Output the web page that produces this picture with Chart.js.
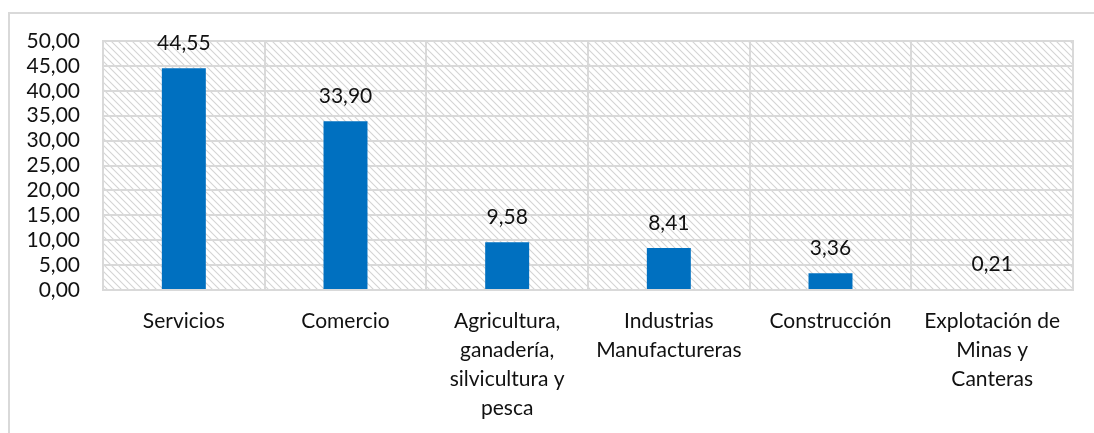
<!DOCTYPE html>
<html>
<head>
<meta charset="utf-8">
<script src="https://cdn.jsdelivr.net/npm/chart.js@4"></script>
<style>
  html, body { margin: 0; padding: 0; background: #fff; overflow: hidden; }
  #frame { position: absolute; left: 8px; top: 12px; width: 1200px; height: 600px;
           border-top: 2px solid #d9d9d9; border-left: 2px solid #d9d9d9; box-sizing: border-box; }
  #wrap { position: absolute; left: 0; top: 0; width: 1094px; height: 433px; }
</style>
</head>
<body>
<div id="frame"></div>
<div id="wrap"><canvas id="c"></canvas></div>
<script>
const categories = [
  "Servicios",
  "Comercio",
  ["Agricultura,", "ganadería,", "silvicultura y", "pesca"],
  ["Industrias", "Manufactureras"],
  "Construcción",
  ["Explotación de", "Minas y", "Canteras"]
];
const values = [44.55, 33.90, 9.58, 8.41, 3.36, 0.21];
const yTicksMin = 0, yTicksMax = 50, yTicksStep = 5;

const FONT = "Lato, 'Open Sans', sans-serif";
const FSIZE = 21;
const fmt = v => v.toFixed(2).replace('.', ',');

function makeHatch() {
  const s = 7;
  const c = document.createElement('canvas');
  c.width = s; c.height = s;
  const g = c.getContext('2d');
  g.fillStyle = '#ffffff';
  g.fillRect(0, 0, s, s);
  g.strokeStyle = '#d4d4d4';
  g.lineWidth = 1.1;
  g.beginPath();
  g.moveTo(-1, -1); g.lineTo(s + 1, s + 1);
  g.moveTo(-1, s - 1); g.lineTo(1, s + 1);
  g.moveTo(s - 1, -1); g.lineTo(s + 1, 1);
  g.stroke();
  return c;
}

const hatchPlugin = {
  id: 'hatch',
  beforeDraw(chart) {
    const { ctx, chartArea: a } = chart;
    ctx.save();
    ctx.fillStyle = ctx.createPattern(makeHatch(), 'repeat');
    ctx.fillRect(a.left, a.top, a.right - a.left, a.bottom - a.top);
    ctx.restore();
  },
  beforeDatasetsDraw(chart) {
    const { ctx, chartArea: a } = chart;
    ctx.save();
    ctx.strokeStyle = '#d9d9d9';
    ctx.lineWidth = 2;
    ctx.strokeRect(a.left, a.top, a.right - a.left, a.bottom - a.top);
    ctx.restore();
  },
  afterDatasetsDraw(chart) {
    const { ctx } = chart;
    const meta = chart.getDatasetMeta(0);
    ctx.save();
    ctx.fillStyle = '#111';
    ctx.font = FSIZE + "px " + FONT;
    ctx.textAlign = 'center';
    ctx.textBaseline = 'alphabetic';
    meta.data.forEach((bar, i) => {
      ctx.fillText(fmt(chart.data.datasets[0].data[i]), bar.x, bar.y - 18);
    });
    ctx.restore();
  }
};

new Chart(document.getElementById('c'), {
  type: 'bar',
  data: {
    labels: categories,
    datasets: [{
      data: values,
      backgroundColor: '#0070C0',
      borderWidth: 0,
      barPercentage: 0.272,
      categoryPercentage: 1.0
    }]
  },
  options: {
    responsive: true,
    maintainAspectRatio: false,
    animation: false,
    events: [],
    devicePixelRatio: 1,
    layout: { padding: { top: 41, right: 21, left: 0, bottom: 0 } },
    plugins: { legend: { display: false }, tooltip: { enabled: false } },
    scales: {
      x: {
        grid: { color: '#d9d9d9', lineWidth: 2, drawTicks: false, offset: true },
        border: { color: '#d9d9d9', width: 2 },
        ticks: {
          color: '#111', padding: 17, maxRotation: 0, autoSkip: false,
          font: { family: FONT, size: FSIZE, lineHeight: '29px' }
        },
        afterFit(scale) { scale.height = 143; }
      },
      y: {
        min: yTicksMin, max: yTicksMax,
        grid: { color: '#d9d9d9', lineWidth: 2, drawTicks: false },
        border: { color: '#d9d9d9', width: 2 },
        ticks: {
          stepSize: yTicksStep, color: '#111', padding: 23, autoSkip: false,
          font: { family: FONT, size: FSIZE, lineHeight: 1 },
          callback: v => fmt(v)
        },
        afterFit(scale) { scale.width = 103; }
      }
    }
  },
  plugins: [hatchPlugin]
});
</script>
</body>
</html>
